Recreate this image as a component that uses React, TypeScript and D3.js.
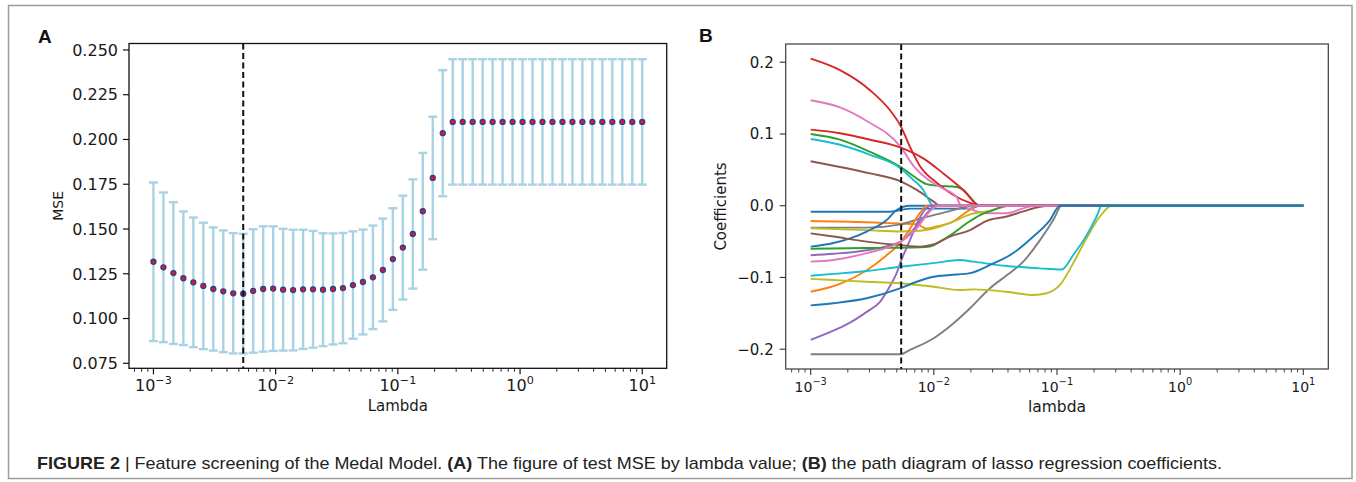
import React from 'react';
import * as d3 from 'd3';

const W = 1356;
const H = 482;

// Panel A: np.logspace(-3, 1, 50) lambda grid
const lambdaGrid = d3.range(50).map((i) => Math.pow(10, -3 + (i * 4) / 49));
const mseMean = [
  0.1317, 0.1286, 0.1254, 0.1225, 0.1202, 0.1182, 0.1165, 0.1152, 0.1141, 0.1139,
  0.1154, 0.1165, 0.1167, 0.1161, 0.1159, 0.1163, 0.1163, 0.1161, 0.1165, 0.117,
  0.1187, 0.1204, 0.123, 0.1271, 0.1332, 0.1396, 0.1472, 0.1599, 0.1785, 0.2035,
  0.2098, 0.2098, 0.2098, 0.2098, 0.2098, 0.2098, 0.2098, 0.2098, 0.2098, 0.2098,
  0.2098, 0.2098, 0.2098, 0.2098, 0.2098, 0.2098, 0.2098, 0.2098, 0.2098, 0.2098,
];
const mseStd = [
  0.0443, 0.0418, 0.0396, 0.0373, 0.0362, 0.0353, 0.0344, 0.034, 0.0336, 0.0334,
  0.0345, 0.035, 0.0348, 0.034, 0.0337, 0.0333, 0.0326, 0.0315, 0.031, 0.0308,
  0.03, 0.0293, 0.0289, 0.0287, 0.0284, 0.029, 0.0305, 0.0326, 0.0342, 0.0352,
  0.035, 0.035, 0.035, 0.035, 0.035, 0.035, 0.035, 0.035, 0.035, 0.035,
  0.035, 0.035, 0.035, 0.035, 0.035, 0.035, 0.035, 0.035, 0.035, 0.035,
];
const bestIndex = 9;

const yTicksA = [0.075, 0.1, 0.125, 0.15, 0.175, 0.2, 0.225, 0.25];
const yTicksB = [-0.2, -0.1, 0.0, 0.1, 0.2];
const decadeExps = [-3, -2, -1, 0, 1];

// Panel B: lasso coefficient paths, [log10(lambda), coefficient]
const coefPaths: [number, number][][] = [
  // 0 blue
  [[-3, -0.0084], [-2.356, -0.0084], [-2.269, -0.006], [-2.194, -0.004], [-1.706, -0.004], [-1.625, 0], [1, 0]],
  // 1 orange
  [[-3, -0.0213], [-2.545, -0.023], [-2.302, -0.0246], [-2.139, -0.026], [-2.058, -0.032], [-1.977, -0.029], [-1.842, -0.022], [-1.761, -0.012], [-1.68, -0.003], [-1.652, 0], [1, 0]],
  // 2 green
  [[-3, 0.1], [-2.762, 0.092], [-2.518, 0.075], [-2.269, 0.054], [-2.139, 0.038], [-2.058, 0.03], [-1.977, 0.028], [-1.814, 0.026], [-1.761, 0.022], [-1.706, 0.012], [-1.652, 0.002], [-1.62, 0], [1, 0]],
  // 3 red
  [[-3, 0.205], [-2.762, 0.189], [-2.518, 0.161], [-2.356, 0.133], [-2.269, 0.111], [-2.194, 0.082], [-2.112, 0.055], [-1.977, 0.032], [-1.842, 0.015], [-1.706, 0.004], [-1.625, 0], [1, 0]],
  // 4 purple
  [[-3, -0.069], [-2.816, -0.067], [-2.545, -0.062], [-2.269, -0.05], [-2.194, -0.0385], [-2.112, -0.022], [-2.031, -0.006], [-1.99, 0], [1, 0]],
  // 5 brown
  [[-3, 0.062], [-2.762, 0.054], [-2.518, 0.045], [-2.269, 0.034], [-2.139, 0.022], [-2.004, 0.006], [-1.95, 0], [1, 0]],
  // 6 pink
  [[-3, 0.147], [-2.762, 0.137], [-2.545, 0.118], [-2.269, 0.082], [-2.167, 0.056], [-2.058, 0.038], [-1.95, 0.026], [-1.814, 0.012], [-1.788, 0.002], [-1.68, -0.006], [-1.571, -0.0105], [-1.408, -0.0105], [-1.274, -0.0036], [-1.19, 0], [1, 0]],
  // 7 gray
  [[-3, -0.0306], [-2.545, -0.0306], [-2.269, -0.026], [-2.112, -0.018], [-1.95, -0.011], [-1.788, -0.0036], [-1.7, 0], [1, 0]],
  // 8 olive
  [[-3, -0.0315], [-2.545, -0.034], [-2.269, -0.036], [-2.112, -0.035], [-1.95, -0.029], [-1.814, -0.02], [-1.706, -0.012], [-1.571, -0.008], [-1.463, -0.003], [-1.38, 0], [1, 0]],
  // 9 cyan
  [[-3, 0.093], [-2.762, 0.085], [-2.518, 0.071], [-2.269, 0.052], [-2.167, 0.036], [-2.086, 0.022], [-2.031, 0.005], [-2.01, 0], [1, 0]],
  // 10 blue
  [[-3, -0.057], [-2.816, -0.052], [-2.545, -0.036], [-2.383, -0.02], [-2.302, -0.006], [-2.194, 0], [1, 0]],
  // 11 orange
  [[-3, -0.12], [-2.762, -0.109], [-2.545, -0.09], [-2.383, -0.069], [-2.269, -0.051], [-2.194, -0.032], [-2.112, -0.01], [-2.058, 0], [1, 0]],
  // 12 green
  [[-3, -0.06], [-2.545, -0.059], [-2.112, -0.058], [-2.031, -0.057], [-1.95, -0.05], [-1.842, -0.0385], [-1.733, -0.0245], [-1.625, -0.013], [-1.517, -0.006], [-1.408, 0], [1, 0]],
  // 13 red
  [[-3, 0.106], [-2.762, 0.101], [-2.518, 0.092], [-2.269, 0.081], [-2.086, 0.066], [-1.923, 0.045], [-1.761, 0.022], [-1.625, 0], [1, 0]],
  // 14 purple
  [[-3, -0.187], [-2.762, -0.17], [-2.681, -0.163], [-2.545, -0.148], [-2.437, -0.134], [-2.356, -0.112], [-2.302, -0.094], [-2.269, -0.078], [-2.22, -0.058], [-2.167, -0.037], [-2.112, -0.016], [-2.058, -0.003], [-2.03, 0], [1, 0]],
  // 15 brown
  [[-3, -0.0385], [-2.816, -0.043], [-2.545, -0.05], [-2.269, -0.055], [-2.112, -0.057], [-2.004, -0.054], [-1.869, -0.043], [-1.706, -0.034], [-1.571, -0.021], [-1.408, -0.015], [-1.274, -0.008], [-1.138, -0.0014], [-1.06, 0], [1, 0]],
  // 16 pink
  [[-3, -0.078], [-2.816, -0.0757], [-2.545, -0.066], [-2.269, -0.05], [-2.139, -0.0315], [-2.058, -0.013], [-2.004, -0.0036], [-1.97, 0], [1, 0]],
  // 17 gray
  [[-3, -0.207], [-2.269, -0.207], [-2.194, -0.201], [-2.004, -0.185], [-1.869, -0.168], [-1.706, -0.143], [-1.544, -0.115], [-1.408, -0.097], [-1.274, -0.078], [-1.138, -0.048], [-1.03, -0.02], [-0.962, 0], [1, 0]],
  // 18 olive
  [[-3, -0.102], [-2.816, -0.1036], [-2.545, -0.106], [-2.269, -0.108], [-2.004, -0.113], [-1.788, -0.1175], [-1.68, -0.1166], [-1.408, -0.12], [-1.192, -0.1245], [-1.084, -0.122], [-0.976, -0.1105], [-0.868, -0.08], [-0.759, -0.045], [-0.651, -0.015], [-0.556, 0], [1, 0]],
  // 19 cyan
  [[-3, -0.0976], [-2.816, -0.095], [-2.545, -0.091], [-2.269, -0.085], [-2.004, -0.08], [-1.788, -0.0757], [-1.68, -0.078], [-1.408, -0.084], [-1.138, -0.0873], [-0.962, -0.089], [-0.868, -0.0687], [-0.759, -0.041], [-0.678, -0.015], [-0.637, 0], [1, 0]],
  // 20 blue
  [[-3, -0.139], [-2.816, -0.136], [-2.545, -0.129], [-2.269, -0.115], [-2.139, -0.106], [-2.004, -0.099], [-1.869, -0.0966], [-1.706, -0.094], [-1.544, -0.0826], [-1.355, -0.066], [-1.192, -0.043], [-1.057, -0.02], [-0.976, 0], [1, 0]],
];

const tab10 = ['#1f77b4', '#ff7f0e', '#2ca02c', '#d62728', '#9467bd', '#8c564b', '#e377c2', '#7f7f7f', '#bcbd22', '#17becf'];

const FONT = 'DejaVu Sans, sans-serif';
const TXT = '#1a1a1a';

function minorTicks(domain: [number, number]) {
  const out: number[] = [];
  for (let e = -4; e <= 1; e++) {
    for (let m = 2; m <= 9; m++) {
      const v = m * Math.pow(10, e);
      if (v >= domain[0] && v <= domain[1]) out.push(v);
    }
  }
  return out;
}

function LogLabel({ x, y, exp, size }: { x: number; y: number; exp: number; size: number }) {
  const s = exp < 0 ? '\u2212' + Math.abs(exp) : String(exp);
  return (
    <text x={x} y={y} textAnchor="middle" fontSize={size} fontFamily={FONT} fill={TXT}>
      10
      <tspan dy={-size * 0.45} fontSize={size * 0.7}>
        {s}
      </tspan>
    </text>
  );
}

function PanelA() {
  const L = 129, R = 666.7, T = 43.5, B = 368.3;
  const dom: [number, number] = [Math.pow(10, -3.2), Math.pow(10, 1.2)];
  const x = d3.scaleLog().domain(dom).range([L, R]);
  const y = d3.scaleLinear().domain([0.0722, 0.2536]).range([B, T]);
  const bestX = x(lambdaGrid[bestIndex]);
  const cap = 4.5;
  return (
    <g>
      {lambdaGrid.map((lam, i) => {
        const cx = x(lam);
        const y1 = y(mseMean[i] + mseStd[i]);
        const y0 = y(mseMean[i] - mseStd[i]);
        return (
          <g key={i} stroke="#a8d3e3" strokeWidth={2.4}>
            <line x1={cx} x2={cx} y1={y0} y2={y1} />
            <line x1={cx - cap} x2={cx + cap} y1={y1} y2={y1} />
            <line x1={cx - cap} x2={cx + cap} y1={y0} y2={y0} />
          </g>
        );
      })}
      {lambdaGrid.map((lam, i) => (
        <circle key={'p' + i} cx={x(lam)} cy={y(mseMean[i])} r={2.5} fill="#e3122a" stroke="#27428f" strokeWidth={1.3} />
      ))}
      <line x1={bestX} x2={bestX} y1={T} y2={B} stroke="#111" strokeWidth={2} strokeDasharray="6,3.5" />
      <rect x={L} y={T} width={R - L} height={B - T} fill="none" stroke="#111" strokeWidth={1.3} />
      {yTicksA.map((t) => (
        <g key={t}>
          <line x1={L - 6} x2={L} y1={y(t)} y2={y(t)} stroke="#111" strokeWidth={1.2} />
          <text x={L - 11} y={y(t)} dy="0.36em" textAnchor="end" fontSize={16} fontFamily={FONT} fill={TXT}>
            {t.toFixed(3)}
          </text>
        </g>
      ))}
      {decadeExps.map((e) => (
        <g key={e}>
          <line x1={x(Math.pow(10, e))} x2={x(Math.pow(10, e))} y1={B} y2={B + 6} stroke="#111" strokeWidth={1.2} />
          <LogLabel x={x(Math.pow(10, e))} y={390.7} exp={e} size={16} />
        </g>
      ))}
      {minorTicks(dom).map((v) => (
        <line key={v} x1={x(v)} x2={x(v)} y1={B} y2={B + 3.5} stroke="#111" strokeWidth={0.9} />
      ))}
      <text x={(L + R) / 2} y={411} textAnchor="middle" fontSize={15} fontFamily={FONT} fill={TXT}>
        Lambda
      </text>
      <text transform={`translate(63,${(T + B) / 2}) rotate(-90)`} textAnchor="middle" fontSize={14} fontFamily={FONT} fill={TXT}>
        MSE
      </text>
      <text x={38} y={43} fontSize={19} fontWeight="bold" fontFamily="Liberation Sans, Arial, sans-serif" fill="#111">
        A
      </text>
    </g>
  );
}

function PanelB() {
  const L = 785.7, R = 1328.3, T = 44, B = 369;
  const dom: [number, number] = [Math.pow(10, -3.203), Math.pow(10, 1.203)];
  const x = d3.scaleLog().domain(dom).range([L, R]);
  const y = d3.scaleLinear().domain([-0.2276, 0.2254]).range([B, T]);
  const line = d3
    .line<[number, number]>()
    .x((d) => x(Math.pow(10, d[0])))
    .y((d) => y(d[1]))
    .curve(d3.curveMonotoneX);
  const bestX = x(lambdaGrid[bestIndex]);
  return (
    <g>
      {coefPaths.map((p, i) => (
        <path key={i} d={line(p) || ''} fill="none" stroke={tab10[i % 10]} strokeWidth={1.9} />
      ))}
      <line x1={bestX} x2={bestX} y1={T} y2={B} stroke="#111" strokeWidth={2} strokeDasharray="6,3.5" />
      <rect x={L} y={T} width={R - L} height={B - T} fill="none" stroke="#3a3a3a" strokeWidth={1.2} />
      {yTicksB.map((t) => (
        <g key={t}>
          <line x1={L - 6} x2={L} y1={y(t)} y2={y(t)} stroke="#333" strokeWidth={1.1} />
          <text x={L - 12} y={y(t)} dy="0.36em" textAnchor="end" fontSize={15} fontFamily={FONT} fill={TXT}>
            {t < 0 ? '\u2212' + Math.abs(t).toFixed(1) : t.toFixed(1)}
          </text>
        </g>
      ))}
      {decadeExps.map((e) => (
        <g key={e}>
          <line x1={x(Math.pow(10, e))} x2={x(Math.pow(10, e))} y1={B} y2={B + 6} stroke="#333" strokeWidth={1.1} />
          <LogLabel x={x(Math.pow(10, e))} y={391.5} exp={e} size={14} />
        </g>
      ))}
      {minorTicks(dom).map((v) => (
        <line key={v} x1={x(v)} x2={x(v)} y1={B} y2={B + 3.5} stroke="#333" strokeWidth={0.9} />
      ))}
      <text x={(L + R) / 2} y={411.5} textAnchor="middle" fontSize={15.5} fontFamily={FONT} fill={TXT}>
        lambda
      </text>
      <text transform={`translate(726,${(T + B) / 2}) rotate(-90)`} textAnchor="middle" fontSize={15} fontFamily={FONT} fill={TXT}>
        Coefficients
      </text>
      <text x={699} y={42} fontSize={19} fontWeight="bold" fontFamily="Liberation Sans, Arial, sans-serif" fill="#111">
        B
      </text>
    </g>
  );
}

export default function App() {
  return (
    <svg width={W} height={H} style={{ position: 'absolute', left: 0, top: 0, background: '#fff' }}>
      <rect x={0} y={0} width={W} height={H} fill="#fff" />
      <rect x={8.5} y={5.5} width={1343.5} height={473} fill="none" stroke="#9c9c9c" strokeWidth={1.5} />
      <PanelA />
      <PanelB />
      <text
        x={37}
        y={468.5}
        fontSize={17}
        fontFamily="Liberation Sans Narrow, Arial Narrow, Liberation Sans, Arial, sans-serif"
        fill="#222"
        textLength={1185}
        lengthAdjust="spacingAndGlyphs"
      >
        <tspan fontWeight="bold">FIGURE 2</tspan>
        <tspan> | Feature screening of the Medal Model. </tspan>
        <tspan fontWeight="bold">(A)</tspan>
        <tspan> The figure of test MSE by lambda value; </tspan>
        <tspan fontWeight="bold">(B)</tspan>
        <tspan> the path diagram of lasso regression coefficients.</tspan>
      </text>
    </svg>
  );
}
